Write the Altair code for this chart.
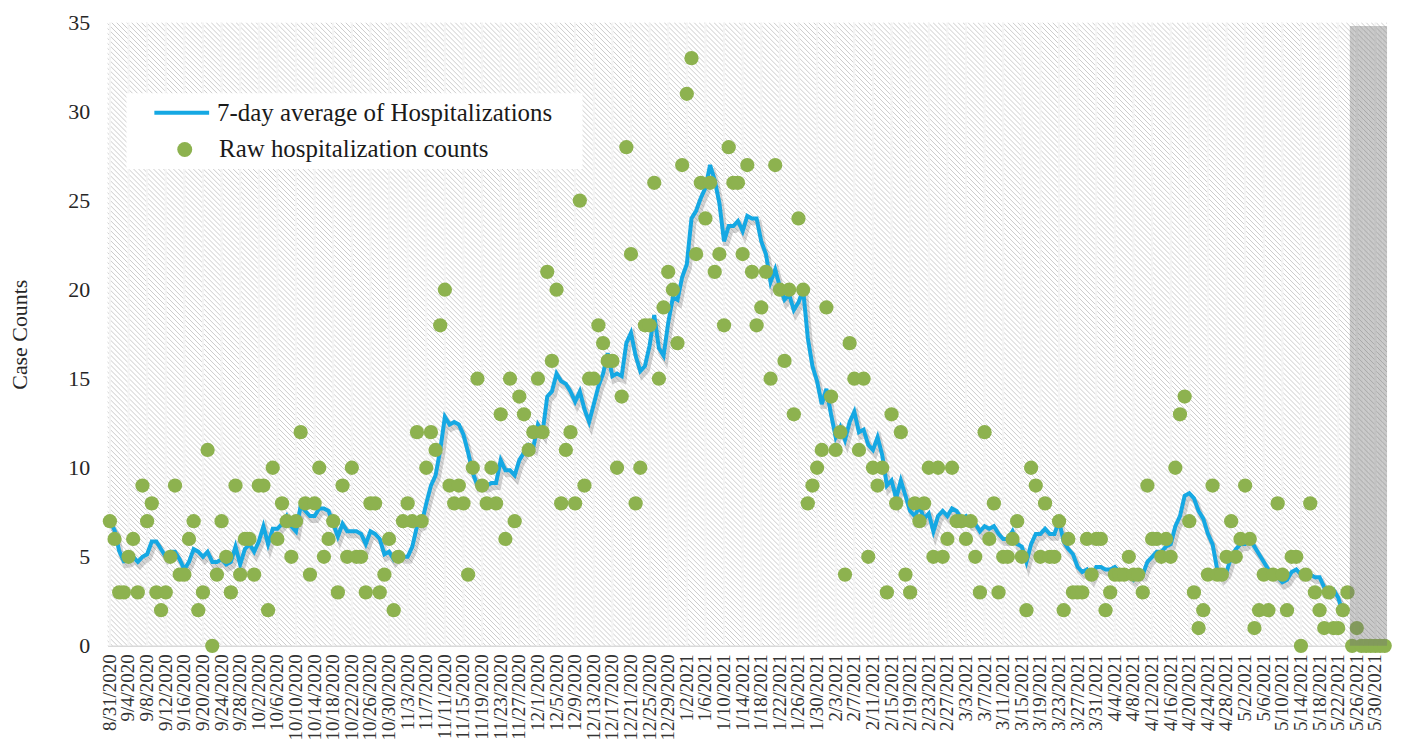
import altair as alt
import pandas as pd

# ---------------- data ----------------
dates = pd.date_range("2020-08-31", "2021-06-01", freq="D")
day_labels = [f"{d.month}/{d.day}/{d.year}" for d in dates]
tick_labels = day_labels[::4]

raw_counts = [
    7, 6, 3, 3, 5, 6, 3, 9, 7, 8,          # 0-9
    3, 2, 3, 5, 9, 4, 4, 6, 7, 2,          # 10-19
    3, 11, 0, 4, 7, 5, 3, 9, 4, 6,         # 20-29
    6, 4, 9, 9, 2, 10, 6, 8, 7, 5,         # 30-39
    7, 12, 8, 4, 8, 10, 5, 6, 7, 3,        # 40-49
    9, 5, 10, 5, 5, 3, 8, 8, 3, 4,         # 50-59
    6, 2, 5, 7, 8, 7, 12, 7, 10, 12,       # 60-69
    11, 18, 20, 9, 8, 9, 8, 4, 10, 15,     # 70-79
    9, 8, 10, 8, 13, 6, 15, 7, 14, 13,     # 80-89
    11, 12, 15, 12, 21, 16, 20, 8, 11, 12, # 90-99
    8, 25, 9, 15, 15, 18, 17, 16, 16, 10,  # 100-109
    14, 28, 22, 8, 10, 18, 18, 26, 15, 19, # 110-119
    21, 20, 17, 27, 31, 33, 22, 26, 24, 26,# 120-129
    21, 22, 18, 28, 26, 26, 22, 27, 21, 18,# 130-139
    19, 21, 15, 27, 20, 16, 20, 13, 24, 20,# 140-149
    8, 9, 10, 11, 19, 14, 11, 12, 4, 17,   # 150-159
    15, 11, 15, 5, 10, 9, 10, 3, 13, 8,    # 160-169
    12, 4, 3, 8, 7, 8, 10, 5, 10, 5,       # 170-179
    6, 10, 7, 7, 6, 7, 5, 3, 12, 6,        # 180-189
    8, 3, 5, 5, 6, 7, 5, 2, 10, 9,         # 190-199
    5, 8, 5, 5, 7, 2, 6, 3, 3, 3,          # 200-209
    6, 4, 6, 6, 2, 3, 4, 4, 4, 5,          # 210-219
    4, 4, 3, 9, 6, 6, 5, 6, 5, 10,         # 220-229
    13, 14, 7, 3, 1, 2, 4, 9, 4, 4,        # 230-239
    5, 7, 5, 6, 9, 6, 1, 2, 4, 2,          # 240-249
    4, 8, 4, 2, 5, 5, 0, 4, 8, 3,          # 250-259
    2, 1, 3, 1, 1, 2, 3, 0, 1, 0,          # 260-269
    0, 0, 0, 0, 0,                         # 270-274
]

series_names = ["7-day average of Hospitalizations", "Raw hospitalization counts"]
last_avg_day = 265          # the average line stops where the shaded (incomplete) period begins
first_shaded_day = 267
shade_top = 34.8
y_ticks = [0, 5, 10, 15, 20, 25, 30, 35]

df = pd.DataFrame({"date": day_labels, "raw": raw_counts, "idx": list(range(len(day_labels)))})
df_ticks = pd.DataFrame({"date": tick_labels})
df_shade = pd.DataFrame({"date": day_labels[first_shaded_day:],
                         "top": [shade_top] * (len(day_labels) - first_shaded_day)})

# ---------------- style ----------------
W, H = 1285, 626
FONT = "Liberation Serif"
BLUE = "#15A8E3"
GREEN = "#8DB24F"

x_scale = alt.Scale(domain=day_labels, paddingInner=0, paddingOuter=0)
x_axis = alt.Axis(values=tick_labels, labelAngle=-90, labelFont=FONT, labelFontSize=19,
                  labelColor="#333333", labelPadding=8, ticks=False, domainColor="#d9d9d9",
                  domainWidth=1.5, grid=False, title=None, labelOverlap=False)
X = alt.X("date:O", scale=x_scale, axis=x_axis)
y_scale = alt.Scale(domain=[0, 35], nice=False)
y_axis = alt.Axis(values=y_ticks, labelFont=FONT, labelFontSize=22, labelColor="#262626",
                  labelPadding=18, ticks=False, domain=False, grid=False,
                  title="Case Counts", titleFont=FONT, titleFontSize=22, titleFontWeight="normal",
                  titleColor="#262626", titlePadding=36)

# hatched background (diagonal rules, clipped to the plot area)
hatch = (
    alt.Chart(alt.sequence(0, 400, as_="k"))
    .transform_calculate(hx=f"datum.k*5-{H}", hx2="datum.k*5", hy="0", hy2=f"{H}")
    .mark_rule(clip=True, color="#cccccc", strokeWidth=1)
    .encode(x=alt.X("hx:Q", scale=None, axis=None), x2="hx2:Q",
            y=alt.Y("hy:Q", scale=None, axis=None), y2="hy2:Q")
)

grid = alt.Chart(df_ticks).mark_rule(color="#f4f4f4", strokeWidth=2).encode(x=X)

base = alt.Chart(df).transform_window(
    avg="mean(raw)", frame=[-6, 0], sort=[alt.SortField("idx")]
).transform_filter(f"datum.idx <= {last_avg_day}").transform_calculate(series=f"'{series_names[0]}'")

shadow = base.mark_line(color="#000000", opacity=0.16, strokeWidth=6, xOffset=2, yOffset=4).encode(
    x=X, y=alt.Y("avg:Q", scale=y_scale, axis=y_axis), order="idx:Q"
)

avg_line = base.mark_line(strokeWidth=4).encode(
    x=X,
    y=alt.Y("avg:Q", scale=y_scale, axis=y_axis),
    order="idx:Q",
    color=alt.Color("series:N", scale=alt.Scale(domain=[series_names[0]], range=[BLUE]),
                    legend=alt.Legend(orient="none", legendX=45, legendY=61, title=None,
                                      symbolType="stroke", symbolSize=3025, symbolStrokeWidth=4,
                                      labelFont=FONT, labelFontSize=25, labelColor="#1a1a1a",
                                      labelOffset=6, labelLimit=0, padding=0, offset=0)),
)

points = alt.Chart(df).transform_calculate(series=f"'{series_names[1]}'").mark_circle(
    size=205, opacity=1
).encode(
    x=X,
    y=alt.Y("raw:Q", scale=y_scale, axis=y_axis),
    fill=alt.Fill("series:N", scale=alt.Scale(domain=[series_names[1]], range=[GREEN]),
                  legend=alt.Legend(orient="none", legendX=65, legendY=115, title=None,
                                    symbolType="circle", symbolSize=225, symbolStrokeWidth=0,
                                    labelFont=FONT, labelFontSize=25, labelColor="#1a1a1a",
                                    labelOffset=22, labelLimit=0, padding=0, offset=0)),
)

shade = alt.Chart(df_shade).mark_bar(color="#707070", opacity=0.38).encode(
    x=X, y=alt.Y("top:Q", scale=y_scale, axis=y_axis)
)

legend_box = alt.Chart(pd.DataFrame({"box": [0]})).mark_rect(color="white").encode(
    x=alt.value(19), x2=alt.value(477), y=alt.value(71), y2=alt.value(147)
)

chart = (
    alt.layer(hatch, grid, shadow, avg_line, points, shade, legend_box)
    .properties(width=W, height=H,
                autosize=alt.AutoSizeParams(type="none"),
                padding={"left": 100, "top": 13, "right": 8, "bottom": 100},
                background="white")
    .configure_view(stroke=None, fill="white")
)

chart.save("out.html", embed_options={"renderer": "svg", "actions": False})
